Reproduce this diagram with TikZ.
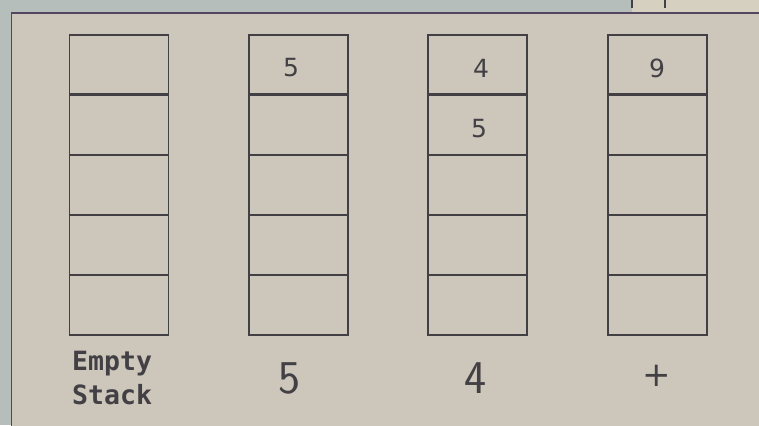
\documentclass[tikz,border=0pt]{standalone}
\usepackage{fontspec}
\newfontfamily\plotfont{DejaVu Sans Mono}
\newfontfamily\digitfont{DejaVu Sans}
\definecolor{paper}{RGB}{204,199,186}
\definecolor{outer}{RGB}{182,190,187}
\definecolor{outerlight}{RGB}{214,208,192}
\definecolor{ink}{RGB}{66,64,68}
\definecolor{frameink}{RGB}{84,70,96}
\begin{document}
\begin{tikzpicture}[x=1pt,y=-1pt,
  cell/.style={draw=ink,line width=1.6pt,minimum width=99pt,minimum height=60pt,inner sep=0pt,outer sep=0pt},
  divider/.style={draw=ink,line width=#1},
  boxnum/.style={font=\digitfont\fontsize{25}{25}\selectfont,text=ink},
  biglabel/.style={font=\sffamily\fontsize{47}{47}\selectfont,text=ink},
  wordlabel/.style={font=\plotfont\bfseries\fontsize{26.5}{34}\selectfont,text=ink,align=left,inner sep=0pt}]
\useasboundingbox (0,0) rectangle (759,425);
% surroundings
\fill[outer] (0,0) rectangle (759,425);
\fill[outerlight] (632,0) rectangle (759,13);
\draw[ink,line width=1.4pt] (632,0) -- (632,8);
\draw[ink,line width=1.4pt] (665,0) -- (665,8);
% frame
\fill[paper] (11.5,13) rectangle (770,440);
\draw[frameink,line width=1.8pt] (11.5,440) -- (11.5,13) -- (770,13);
% stacks
\foreach \s/\cx in {1/119,2/298.5,3/477.5,4/657.5}{
  \foreach \b in {1,...,5}{
    \node[cell] (s\s b\b) at (\cx,{35+60*(\b-1)+30}) {};
  }
  \draw[divider=3pt] (s\s b1.south west) -- (s\s b1.south east);
  \draw[divider=2.6pt] (s\s b2.south west) -- (s\s b2.south east);
  \draw[divider=2.2pt] (s\s b3.south west) -- (s\s b3.south east);
}
% contents
\node[boxnum] (n5a) at (291,68) {5};
\node[boxnum] (n4) at (481,68) {4};
\node[boxnum] (n5b) at (479,129) {5};
\node[boxnum] (n9) at (657,68) {9};
% labels
\node[wordlabel,anchor=north west] (lab1) at (72,351) {Empty\\Stack};
\node[biglabel] (lab2) at (290,378) {5};
\node[biglabel] (lab3) at (476,378) {4};
\node[text=ink,font=\digitfont\fontsize{34}{34}\selectfont] (lab4) at (657,376) {+};
\end{tikzpicture}
\end{document}
